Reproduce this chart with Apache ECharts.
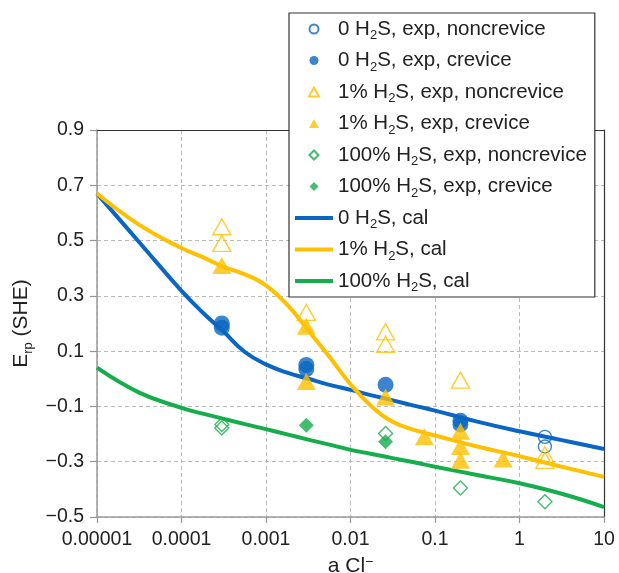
<!DOCTYPE html>
<html>
<head>
<meta charset="utf-8">
<script src="https://cdn.jsdelivr.net/npm/echarts@6/dist/echarts.min.js"></script>
<style>html,body{margin:0;padding:0;background:#fff;}#c{width:619px;height:573px;}</style>
</head>
<body>
<div id="c"></div>
<script>
// ---- data ----
const xTickLabels = ['0.00001', '0.0001', '0.001', '0.01', '0.1', '1', '10'];
const yTicks = [-0.5, -0.3, -0.1, 0.1, 0.3, 0.5, 0.7, 0.9];

const seriesNames = [
  '0 H2S, exp, noncrevice', '0 H2S, exp, crevice',
  '1% H2S, exp, noncrevice', '1% H2S, exp, crevice',
  '100% H2S, exp, noncrevice', '100% H2S, exp, crevice',
  '0 H2S, cal', '1% H2S, cal', '100% H2S, cal'
];
const TRI = 'path://M5,0L10,9L0,9Z';
const DIA = 'path://M5,0L10,5L5,10L0,5Z';
const LIN = 'path://M0,0H38V4H0Z';
const legendIcons = ['circle', 'circle', TRI, TRI, DIA, DIA, LIN, LIN, LIN];

// experimental points [a Cl-, Erp]
const h0NonX = [2.0, 2.0];
const h0NonY = [-0.21, -0.245];
const h0CrevX = [0.0003, 0.0003, 0.003, 0.003, 0.026, 0.2, 0.2];
const h0CrevY = [0.2, 0.185, 0.05, 0.035, -0.022, -0.152, -0.165];
const h1NonX = [0.0003, 0.0003, 0.003, 0.026, 0.026, 0.2, 2.0, 2.0];
const h1NonY = [0.55, 0.49, 0.24, 0.17, 0.125, -0.005, -0.275, -0.295];
const h1CrevX = [0.0003, 0.003, 0.003, 0.026, 0.075, 0.2, 0.2, 0.2, 0.64];
const h1CrevY = [0.41, 0.19, -0.01, -0.066, -0.21, -0.19, -0.245, -0.295, -0.29];
const h100NonX = [0.0003, 0.0003, 0.026, 0.2, 2.0];
const h100NonY = [-0.165, -0.178, -0.198, -0.395, -0.445];
const h100CrevX = [0.003, 0.026];
const h100CrevY = [-0.168, -0.228];

// calculated curves
const calX = [0.00001, 0.0000316, 0.0001, 0.000178, 0.000316, 0.000562, 0.001, 0.00178, 0.00316,
              0.00562, 0.01, 0.0178, 0.0316, 0.0562, 0.1, 0.316, 1, 3.16, 10];
const cal0Y = [0.67, 0.494, 0.318, 0.24, 0.17, 0.097, 0.052, 0.022, 0.0,
               -0.022, -0.04, -0.06, -0.078, -0.097, -0.115, -0.155, -0.19, -0.222, -0.254];
const cal1Y = [0.67, 0.557, 0.473, 0.44, 0.405, 0.378, 0.338, 0.268, 0.175,
               0.08, -0.02, -0.1, -0.155, -0.185, -0.205, -0.245, -0.28, -0.318, -0.355];
const cal100Y = [0.04, -0.05, -0.105, -0.126, -0.145, -0.164, -0.182, -0.201, -0.22,
                 -0.238, -0.257, -0.272, -0.287, -0.302, -0.318, -0.348, -0.378, -0.416, -0.464];

// ---- chart ----
const BLUE = '#0a66c2', YELLOW = '#ffc000', GREEN = '#16ad4c';
const FONT = 'Liberation Sans, Arial, Helvetica, sans-serif';
const FS = 19.5, LFS = 20.5, NFS = 21;
const zip = (xs, ys) => xs.map((x, i) => [x, ys[i]]);

function richName(n) {
  const i = n.indexOf('H2S');
  return '{t|' + n.slice(0, i) + 'H}{s|2}{t|S' + n.slice(i + 3) + '}';
}

const chart = echarts.init(document.getElementById('c'), null, {renderer: 'canvas'});
const openStyle = c => ({color: 'rgba(255,255,255,0)', borderColor: c, borderWidth: 1.4});
const calLine = (name, color, ys) => ({
  name, type: 'line', smooth: 0.45, symbol: 'none', showSymbol: false, z: 3,
  lineStyle: {color, width: 4}, itemStyle: {color}, data: zip(calX, ys)
});

const option = {
  animation: false,
  backgroundColor: '#fff',
  textStyle: {fontFamily: FONT},
  grid: {left: 97, right: 15, top: 130, bottom: 56, containLabel: false, outerBoundsMode: 'none'},
  legend: {
    orient: 'vertical', left: 289, top: 13,
    padding: [2, 8, 3, 6],
    itemWidth: 38, itemHeight: 9, itemGap: 4.5, itemTextGap: 5,
    symbolKeepAspect: true,
    backgroundColor: '#fff', borderColor: '#333', borderWidth: 1.2, borderRadius: 0,
    data: seriesNames.map((n, i) => ({name: n, icon: legendIcons[i]})),
    formatter: richName,
    textStyle: {
      fontFamily: FONT, color: '#222',
      rich: {
        t: {fontSize: LFS, lineHeight: 28, fontFamily: FONT, color: '#222'},
        s: {fontSize: 13, lineHeight: 13, padding: [14, 0, 0, 0], fontFamily: FONT, color: '#222', verticalAlign: 'top'}
      }
    }
  },
  xAxis: [{
    type: 'log', logBase: 10, min: 0.00001, max: 10,
    name: '{t|a Cl}{p|−}', nameLocation: 'middle', nameGap: 36,
    nameTextStyle: {
      rich: {
        t: {fontSize: NFS, lineHeight: 22, fontFamily: FONT, color: '#222'},
        p: {fontSize: 14, lineHeight: 8, fontFamily: FONT, color: '#222', verticalAlign: 'top'}
      }
    },
    axisLine: {show: true, onZero: false, lineStyle: {color: '#999', width: 1.5}},
    axisTick: {show: true, inside: false, length: 6, lineStyle: {color: '#999', width: 1.2}},
    minorTick: {show: false},
    splitLine: {show: true, lineStyle: {color: '#bbb', type: [4, 3], width: 1}},
    axisLabel: {
      fontSize: FS, color: '#222', fontFamily: FONT, margin: 13,
      formatter: (v, i) => xTickLabels[i]
    }
  }, {
    type: 'log', logBase: 10, min: 0.00001, max: 10, position: 'top',
    axisLine: {show: true, onZero: false, lineStyle: {color: '#333', width: 1.2}},
    axisTick: {show: false}, axisLabel: {show: false}, splitLine: {show: false}
  }],
  yAxis: [{
    type: 'value', min: -0.5, max: 0.9,
    name: '{t|E}{s|rp}{t| (SHE)}', nameLocation: 'middle', nameGap: 52, nameRotate: 90,
    nameTextStyle: {
      rich: {
        t: {fontSize: NFS, lineHeight: 28, fontFamily: FONT, color: '#222'},
        s: {fontSize: 13, lineHeight: 13, padding: [14, 0, 0, 0], fontFamily: FONT, color: '#222', verticalAlign: 'top'}
      }
    },
    axisLine: {show: true, onZero: false, lineStyle: {color: '#999', width: 1.5}},
    axisTick: {show: true, inside: false, length: 7, lineStyle: {color: '#999', width: 1.2}, customValues: yTicks},
    splitLine: {show: true, lineStyle: {color: '#bbb', type: [4, 3], width: 1}},
    axisLabel: {
      fontSize: FS, color: '#222', fontFamily: FONT, margin: 13,
      customValues: yTicks,
      formatter: v => (v < 0 ? '\u2212' : '') + Math.abs(v).toFixed(1)
    }
  }, {
    type: 'value', min: -0.5, max: 0.9, position: 'right',
    axisLine: {show: true, onZero: false, lineStyle: {color: '#333', width: 1.2}},
    axisTick: {show: false}, axisLabel: {show: false}, splitLine: {show: false}
  }],
  series: [
    {name: seriesNames[0], type: 'scatter', symbol: 'circle', symbolSize: 13, z: 5,
     itemStyle: openStyle(BLUE), data: zip(h0NonX, h0NonY)},
    {name: seriesNames[1], type: 'scatter', symbol: 'circle', symbolSize: 16, z: 5,
     itemStyle: {color: BLUE}, data: zip(h0CrevX, h0CrevY)},
    {name: seriesNames[2], type: 'scatter', symbol: 'triangle', symbolSize: [18, 16], z: 5,
     itemStyle: openStyle(YELLOW), data: zip(h1NonX, h1NonY)},
    {name: seriesNames[3], type: 'scatter', symbol: 'triangle', symbolSize: [19, 17], z: 5,
     itemStyle: {color: YELLOW}, data: zip(h1CrevX, h1CrevY)},
    {name: seriesNames[4], type: 'scatter', symbol: 'diamond', symbolSize: 14, z: 5,
     itemStyle: openStyle(GREEN), data: zip(h100NonX, h100NonY)},
    {name: seriesNames[5], type: 'scatter', symbol: 'diamond', symbolSize: 15, z: 5,
     itemStyle: {color: GREEN}, data: zip(h100CrevX, h100CrevY)},
    calLine(seriesNames[6], BLUE, cal0Y),
    calLine(seriesNames[7], YELLOW, cal1Y),
    calLine(seriesNames[8], GREEN, cal100Y)
  ]
};
chart.setOption(option);
</script>
</body>
</html>
